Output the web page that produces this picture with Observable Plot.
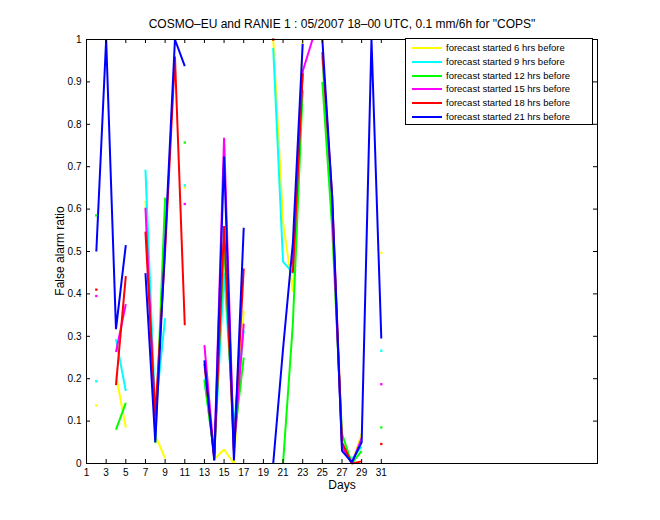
<!DOCTYPE html>
<html>
<head>
<meta charset="utf-8">
<script src="https://cdn.jsdelivr.net/npm/d3@7"></script>
<script src="https://cdn.jsdelivr.net/npm/@observablehq/plot@0.6"></script>
<style>
  html, body { margin: 0; padding: 0; background: #fff; }
  #wrap { position: relative; width: 660px; height: 520px; font-family: "Liberation Sans", Arial, sans-serif; color: #000; }
  #wrap svg { position: absolute; left: 0; top: 0; }
  .abs { position: absolute; white-space: nowrap; }
  #title { left: 0; width: 684px; top: 17px; text-align: center; font-size: 12px; }
  #xlabel { left: 0; width: 684px; top: 478px; text-align: center; font-size: 12px; }
  #ylabel { left: 60px; top: 251px; font-size: 12px; transform: translate(-50%, -50%) rotate(-90deg); }
  #legend { left: 405px; top: 38px; width: 186px; height: 85px; border: 1px solid #000; background: #fff; }
  .lrow { position: absolute; left: 0; height: 12px; }
  .lline { position: absolute; left: 6px; width: 30px; height: 2px; top: 5px; }
  .ltext { position: absolute; left: 40px; top: 0; font-size: 9.5px; line-height: 12px; }
</style>
</head>
<body>
<div id="wrap">
  <div id="title" class="abs">COSMO–EU and RANIE 1 : 05/2007 18–00 UTC, 0.1 mm/6h for "COPS"</div>
  <div id="xlabel" class="abs">Days</div>
  <div id="ylabel" class="abs">False alarm ratio</div>
</div>
<script>
// ---- data ----
const days = [1,2,3,4,5,6,7,8,9,10,11,12,13,14,15,16,17,18,19,20,21,22,23,24,25,26,27,28,29,30,31];
const seriesNames = [
  "forecast started 6 hrs before",
  "forecast started 9 hrs before",
  "forecast started 12 hrs before",
  "forecast started 15 hrs before",
  "forecast started 18 hrs before",
  "forecast started 21 hrs before"
];
const seriesColors = ["#ffff00", "#00ffff", "#00ff00", "#ff00ff", "#ff0000", "#0000ff"];

const far6  = [null,0.137,null,0.208,0.085,null,0.62,0.066,0.012,null,0.651,null,null,0.01,0.033,0.0,0.36,null,null,1.0,0.57,0.405,1.0,null,0.95,0.58,0.05,0.0,0.07,null,0.497];
const far9  = [null,0.194,null,0.293,0.171,null,0.693,0.12,0.343,null,0.656,null,0.2,0.02,0.45,0.09,0.315,null,null,0.98,0.476,0.449,0.93,null,0.96,0.6,0.04,0.01,0.04,null,0.266];
const far12 = [null,0.585,null,0.08,0.143,null,null,0.048,0.627,null,0.757,null,0.196,0.02,0.52,0.05,0.25,null,null,null,0.0,0.33,0.88,null,0.9,0.555,0.07,0.0,0.03,null,0.085];
const far15 = [null,0.395,null,0.263,0.376,null,0.603,0.09,null,null,0.612,null,0.279,0.015,0.768,0.03,0.33,null,null,null,null,0.47,0.925,1.0,null,0.6,0.04,0.0,0.06,null,0.187];
const far18 = [null,0.41,null,0.185,0.442,null,0.547,0.113,0.5,0.96,0.326,null,0.235,0.01,0.56,0.03,0.46,null,null,1.0,null,0.45,0.92,null,0.97,0.63,0.05,0.0,0.005,null,0.046];
const far21 = [null,0.5,1.0,0.317,0.515,null,0.449,0.05,0.52,1.0,0.937,null,0.243,0.007,0.724,0.007,0.556,null,null,0.0,0.27,0.52,0.99,null,1.0,0.63,0.03,0.003,0.05,1.0,0.295];

const xTicks = [1,3,5,7,9,11,13,15,17,19,21,23,25,27,29,31];
const yTicks = [0,0.1,0.2,0.3,0.4,0.5,0.6,0.7,0.8,0.9,1];
const yTickLabels = ["0","0.1","0.2","0.3","0.4","0.5","0.6","0.7","0.8","0.9","1"];
const xDomain = [1, 53];
const yDomain = [0, 1];

// ---- build table ----
const allSeries = [far6, far9, far12, far15, far18, far21];
const rows = [];
allSeries.forEach((vals, s) => vals.forEach((v, i) => rows.push({s, day: days[i], v})));
const isolated = rows.filter(r => {
  const vals = allSeries[r.s];
  const i = days.indexOf(r.day);
  return r.v != null && vals[i - 1] == null && vals[i + 1] == null;
});

const chart = Plot.plot({
  width: 660,
  height: 520,
  marginLeft: 86,
  marginRight: 63,
  marginTop: 39,
  marginBottom: 57,
  x: {domain: xDomain, label: null},
  y: {domain: yDomain, label: null},
  color: {type: "identity"},
  style: {fontFamily: "Liberation Sans, Arial, sans-serif", fontSize: "10px", background: "transparent", color: "black"},
  marks: [
    Plot.line(rows, {x: "day", y: "v", z: "s", stroke: d => seriesColors[d.s], strokeWidth: 2, strokeLinejoin: "miter", strokeLinecap: "butt"}),
    Plot.dot(isolated, {x: "day", y: "v", fill: d => seriesColors[d.s], symbol: "square", r: 1.3, stroke: null}),
    Plot.frame({stroke: "black", strokeWidth: 1}),
    Plot.ruleX(xTicks, {x: d => d, y1: yDomain[0], y2: yDomain[0], insetTop: -4, stroke: "black"}),
    Plot.ruleX(xTicks, {x: d => d, y1: yDomain[1], y2: yDomain[1], insetBottom: -4, stroke: "black"}),
    Plot.ruleY(yTicks, {y: d => d, x1: xDomain[0], x2: xDomain[0], insetRight: -4, stroke: "black"}),
    Plot.ruleY(yTicks, {y: d => d, x1: xDomain[1], x2: xDomain[1], insetLeft: -4, stroke: "black"}),
    Plot.axisX(xTicks, {tickSize: 0, tickPadding: 5, fontSize: 10, label: null}),
    Plot.axisY(yTicks, {tickSize: 0, tickPadding: 5, fontSize: 10, label: null, tickFormat: d => yTickLabels[yTicks.indexOf(d)]})
  ]
});

const wrap = document.getElementById("wrap");
wrap.insertBefore(chart, wrap.firstChild);

// ---- legend ----
const legend = document.createElement("div");
legend.id = "legend";
legend.className = "abs";
seriesNames.forEach((name, i) => {
  const row = document.createElement("div");
  row.className = "lrow";
  row.style.top = (3 + i * 13.8) + "px";
  row.style.width = "100%";
  const line = document.createElement("div");
  line.className = "lline";
  line.style.background = seriesColors[i];
  const txt = document.createElement("div");
  txt.className = "ltext";
  txt.textContent = name;
  row.appendChild(line);
  row.appendChild(txt);
  legend.appendChild(row);
});
wrap.appendChild(legend);
</script>
</body>
</html>
